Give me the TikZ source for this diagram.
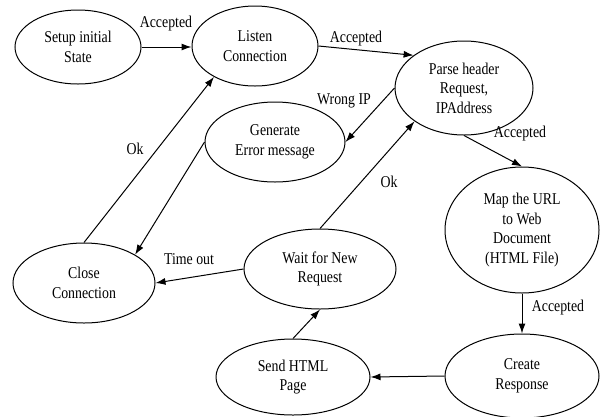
\documentclass[tikz,border=0pt]{standalone}
\usepackage{fontspec}
\setmainfont{Liberation Serif}[FakeStretch=0.84]
\usetikzlibrary{shapes.geometric,arrows.meta}
\begin{document}
\begin{tikzpicture}[x=1pt,y=-1pt,
  font=\fontsize{16.5}{19.5}\selectfont,
  state/.style={ellipse,draw,line width=1pt,inner sep=0pt,align=center},
  flow/.style={line width=1pt,-{Latex[length=10pt,width=7pt]}},
  lbl/.style={inner sep=1pt}]
\useasboundingbox (0,0) rectangle (602,416);

% states
\node[state,minimum width=126pt,minimum height=74pt] (setup)  at (78,47)   {Setup initial\\State};
\node[state,minimum width=126pt,minimum height=80pt] (listen) at (255,46)  {Listen\\Connection};
\node[state,minimum width=138pt,minimum height=94pt] (parse)  at (464,88)  {Parse header\\Request,\\IPAddress};
\node[state,minimum width=140pt,minimum height=80pt] (error)  at (275,142) {Generate\\Error message};
\node[state,minimum width=154pt,minimum height=126pt] (map)   at (522,230) {Map the URL\\to Web\\Document\\(HTML File)};
\node[state,minimum width=142pt,minimum height=80pt] (close)  at (84,283)  {Close\\Connection};
\node[state,minimum width=152pt,minimum height=80pt] (wait)   at (320,269) {Wait for New\\Request};
\node[state,minimum width=154pt,minimum height=76pt] (send)   at (293,377) {Send HTML\\Page};
\node[state,minimum width=154pt,minimum height=84pt] (create) at (522,376) {Create\\Response};

% transitions
\draw[flow] (setup.east) -- (setup.east -| listen.west);
\draw[flow] (listen.east) -- (parse.147);
\draw[flow] (parse.west) -- (error.east);
\draw[flow] (parse.south) -- (map.north);
\draw[flow] (map.south) -- (create.north);
\draw[flow] (create.west) -- (send.east);
\draw[flow] (send.north) -- (wait.south);
\draw[flow] (wait.north) -- (parse.214);
\draw[flow] (wait.west) -- (close.east);
\draw[flow] (close.north) -- (listen.217);
\draw[flow] (error.west) -- (close.29);

% transition labels
\node[lbl] (l1) at (166,24)  {Accepted};
\node[lbl] (l2) at (356,39)  {Accepted};
\node[lbl] (l3) at (344,101) {Wrong IP};
\node[lbl] (l4) at (520,134) {Accepted};
\node[lbl] (l5) at (389,182) {Ok};
\node[lbl] (l6) at (558,308) {Accepted};
\node[lbl] (l7) at (189,259) {Time out};
\node[lbl] (l8) at (135,149) {Ok};
\end{tikzpicture}
\end{document}
